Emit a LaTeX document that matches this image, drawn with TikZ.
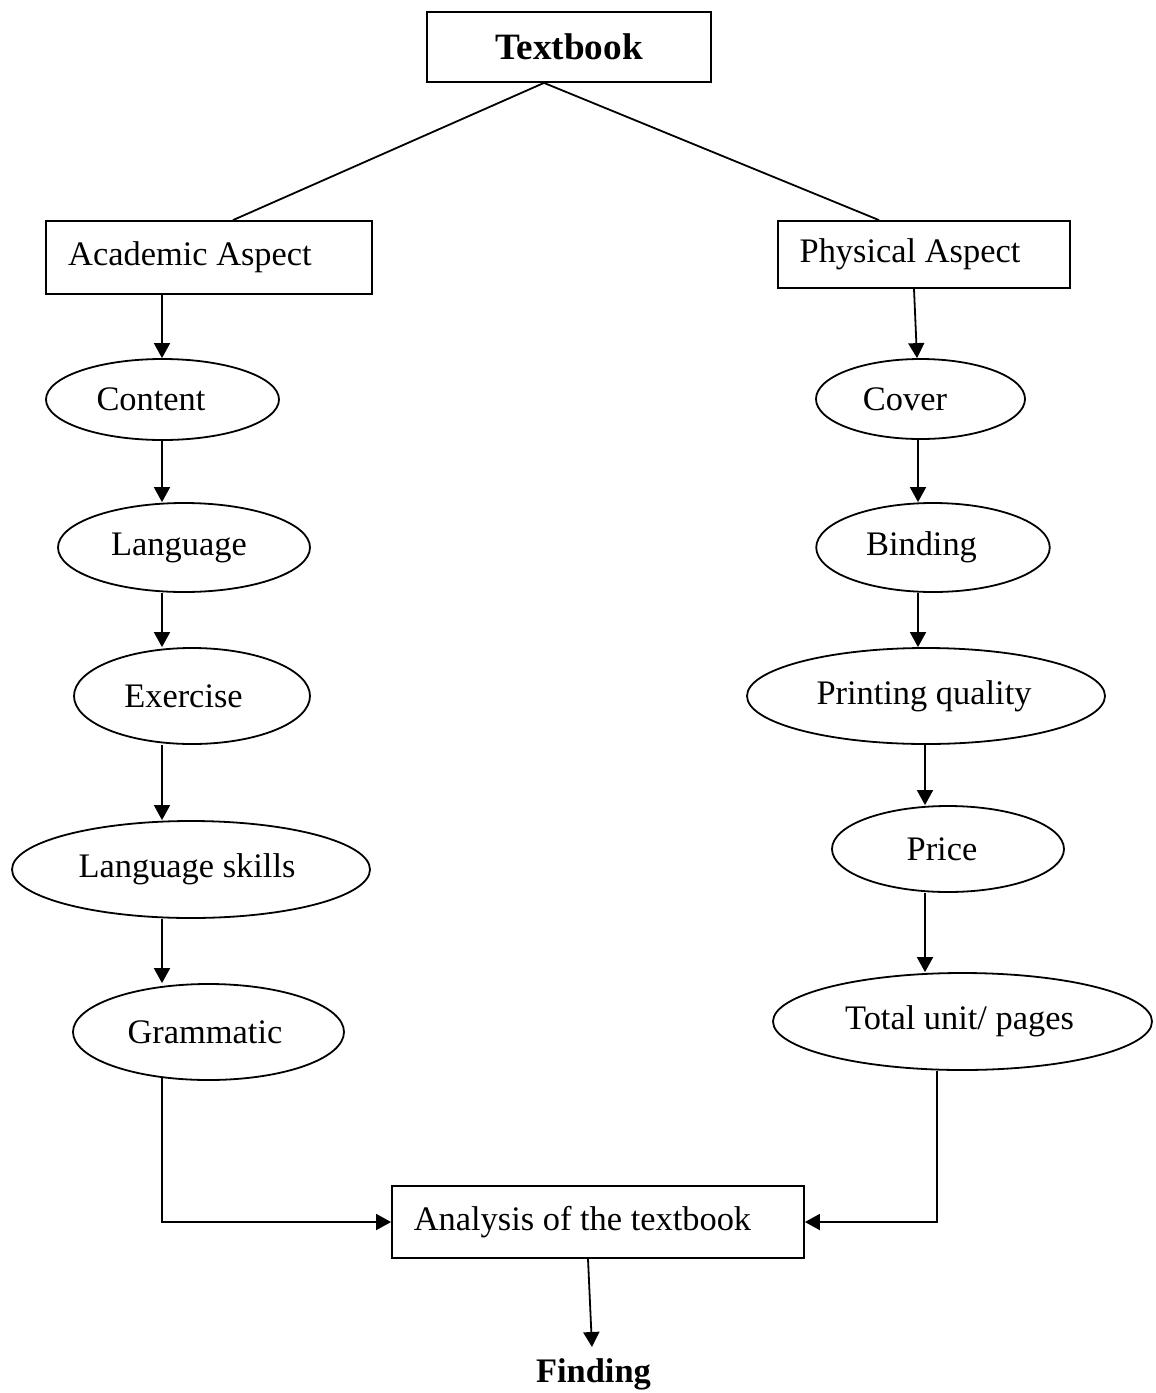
\documentclass[tikz,border=0pt]{standalone}
\usepackage{fontspec}
\setmainfont{Liberation Serif}
\usetikzlibrary{shapes.geometric,arrows.meta}
\begin{document}
\begin{tikzpicture}[x=0.5pt,y=-0.5pt,
  line width=0.9pt,
  box/.style={draw, rectangle, inner sep=0pt, font=\fontsize{17.2}{20}\selectfont},
  oval/.style={draw, ellipse, inner sep=0pt, font=\fontsize{17.2}{20}\selectfont},
  arr/.style={-{Triangle[length=7.5pt,width=8pt]}}]
\useasboundingbox (0,0) rectangle (1156,1393);

\node[box, minimum width=142pt, minimum height=35pt, font=\fontsize{18.6}{22}\selectfont\bfseries] (tb) at (569,47) {Textbook};
\node[box, minimum width=163pt, minimum height=36.5pt] (acad) at (209,257.5) {\hspace*{-19pt}Academic Aspect};
\node[box, minimum width=146pt, minimum height=33.5pt] (phys) at (924,254.5) {\hspace*{-14pt}Physical Aspect};

\node[oval, minimum width=116.5pt, minimum height=40.5pt] (content) at (162.5,399.5) {\hspace*{-11.5pt}Content};
\node[oval, minimum width=126pt, minimum height=44.5pt] (lang) at (184,547.5) {\hspace*{-5pt}Language};
\node[oval, minimum width=118pt, minimum height=48pt] (ex) at (192,696) {\hspace*{-8.5pt}Exercise};
\node[oval, minimum width=179pt, minimum height=48.5pt] (skills) at (191,869.5) {\hspace*{-4pt}Language skills};
\node[oval, minimum width=135.5pt, minimum height=48pt] (gram) at (208.5,1032) {\hspace*{-3.5pt}Grammatic};

\node[oval, minimum width=104.5pt, minimum height=40pt] (cover) at (920.5,399) {\hspace*{-15.5pt}Cover};
\node[oval, minimum width=116.75pt, minimum height=44.5pt] (bind) at (933,547.5) {\hspace*{-11.5pt}Binding};
\node[oval, minimum width=179pt, minimum height=48pt] (print) at (926,696) {\hspace*{-2pt}Printing quality};
\node[oval, minimum width=116pt, minimum height=43pt] (price) at (948,849) {\hspace*{-6pt}Price};
\node[oval, minimum width=189.5pt, minimum height=48.5pt] (total) at (962.5,1021.5) {\hspace*{-3pt}Total unit/ pages};

\node[box, minimum width=206pt, minimum height=36pt] (ana) at (598,1222) {\hspace*{-15.5pt}Analysis of the textbook};
\node[font=\fontsize{17.2}{20}\selectfont\bfseries, anchor=base, inner sep=0pt] (find) at (593.5,1382) {Finding};

\coordinate (xa) at (544,0);
\coordinate (xb) at (233,0);
\coordinate (xc) at (879,0);
\coordinate (cL) at (162,0);
\coordinate (cR0) at (914,0);
\coordinate (cR1) at (917,0);
\coordinate (cR) at (918,0);
\coordinate (cR2) at (925,0);
\coordinate (cR3) at (937,0);
\coordinate (xf) at (588,0);
\coordinate (fend) at (592,1347);

\draw (tb.south -| xa) -- (acad.north -| xb);
\draw (tb.south -| xa) -- (phys.north -| xc);

\draw[arr] (acad.south -| cL) -- (content.north -| cL);
\draw[arr] (content.south -| cL) -- (lang.north -| cL);
\draw[arr] (lang.south -| cL) -- (ex.north -| cL);
\draw[arr] (ex.south -| cL) -- (skills.north -| cL);
\draw[arr] (skills.south -| cL) -- (gram.north -| cL);
\draw[arr, shorten <=-1.5pt] (gram.south -| cL) |- (ana.west);

\draw[arr] (phys.south -| cR0) -- (cover.north -| cR1);
\draw[arr] (cover.south -| cR) -- (bind.north -| cR);
\draw[arr] (bind.south -| cR) -- (print.north -| cR);
\draw[arr] (print.south -| cR2) -- (price.north -| cR2);
\draw[arr] (price.south -| cR2) -- (total.north -| cR2);
\draw[arr] (total.south -| cR3) |- (ana.east);

\draw[arr] (ana.south -| xf) -- (fend);
\end{tikzpicture}
\end{document}
